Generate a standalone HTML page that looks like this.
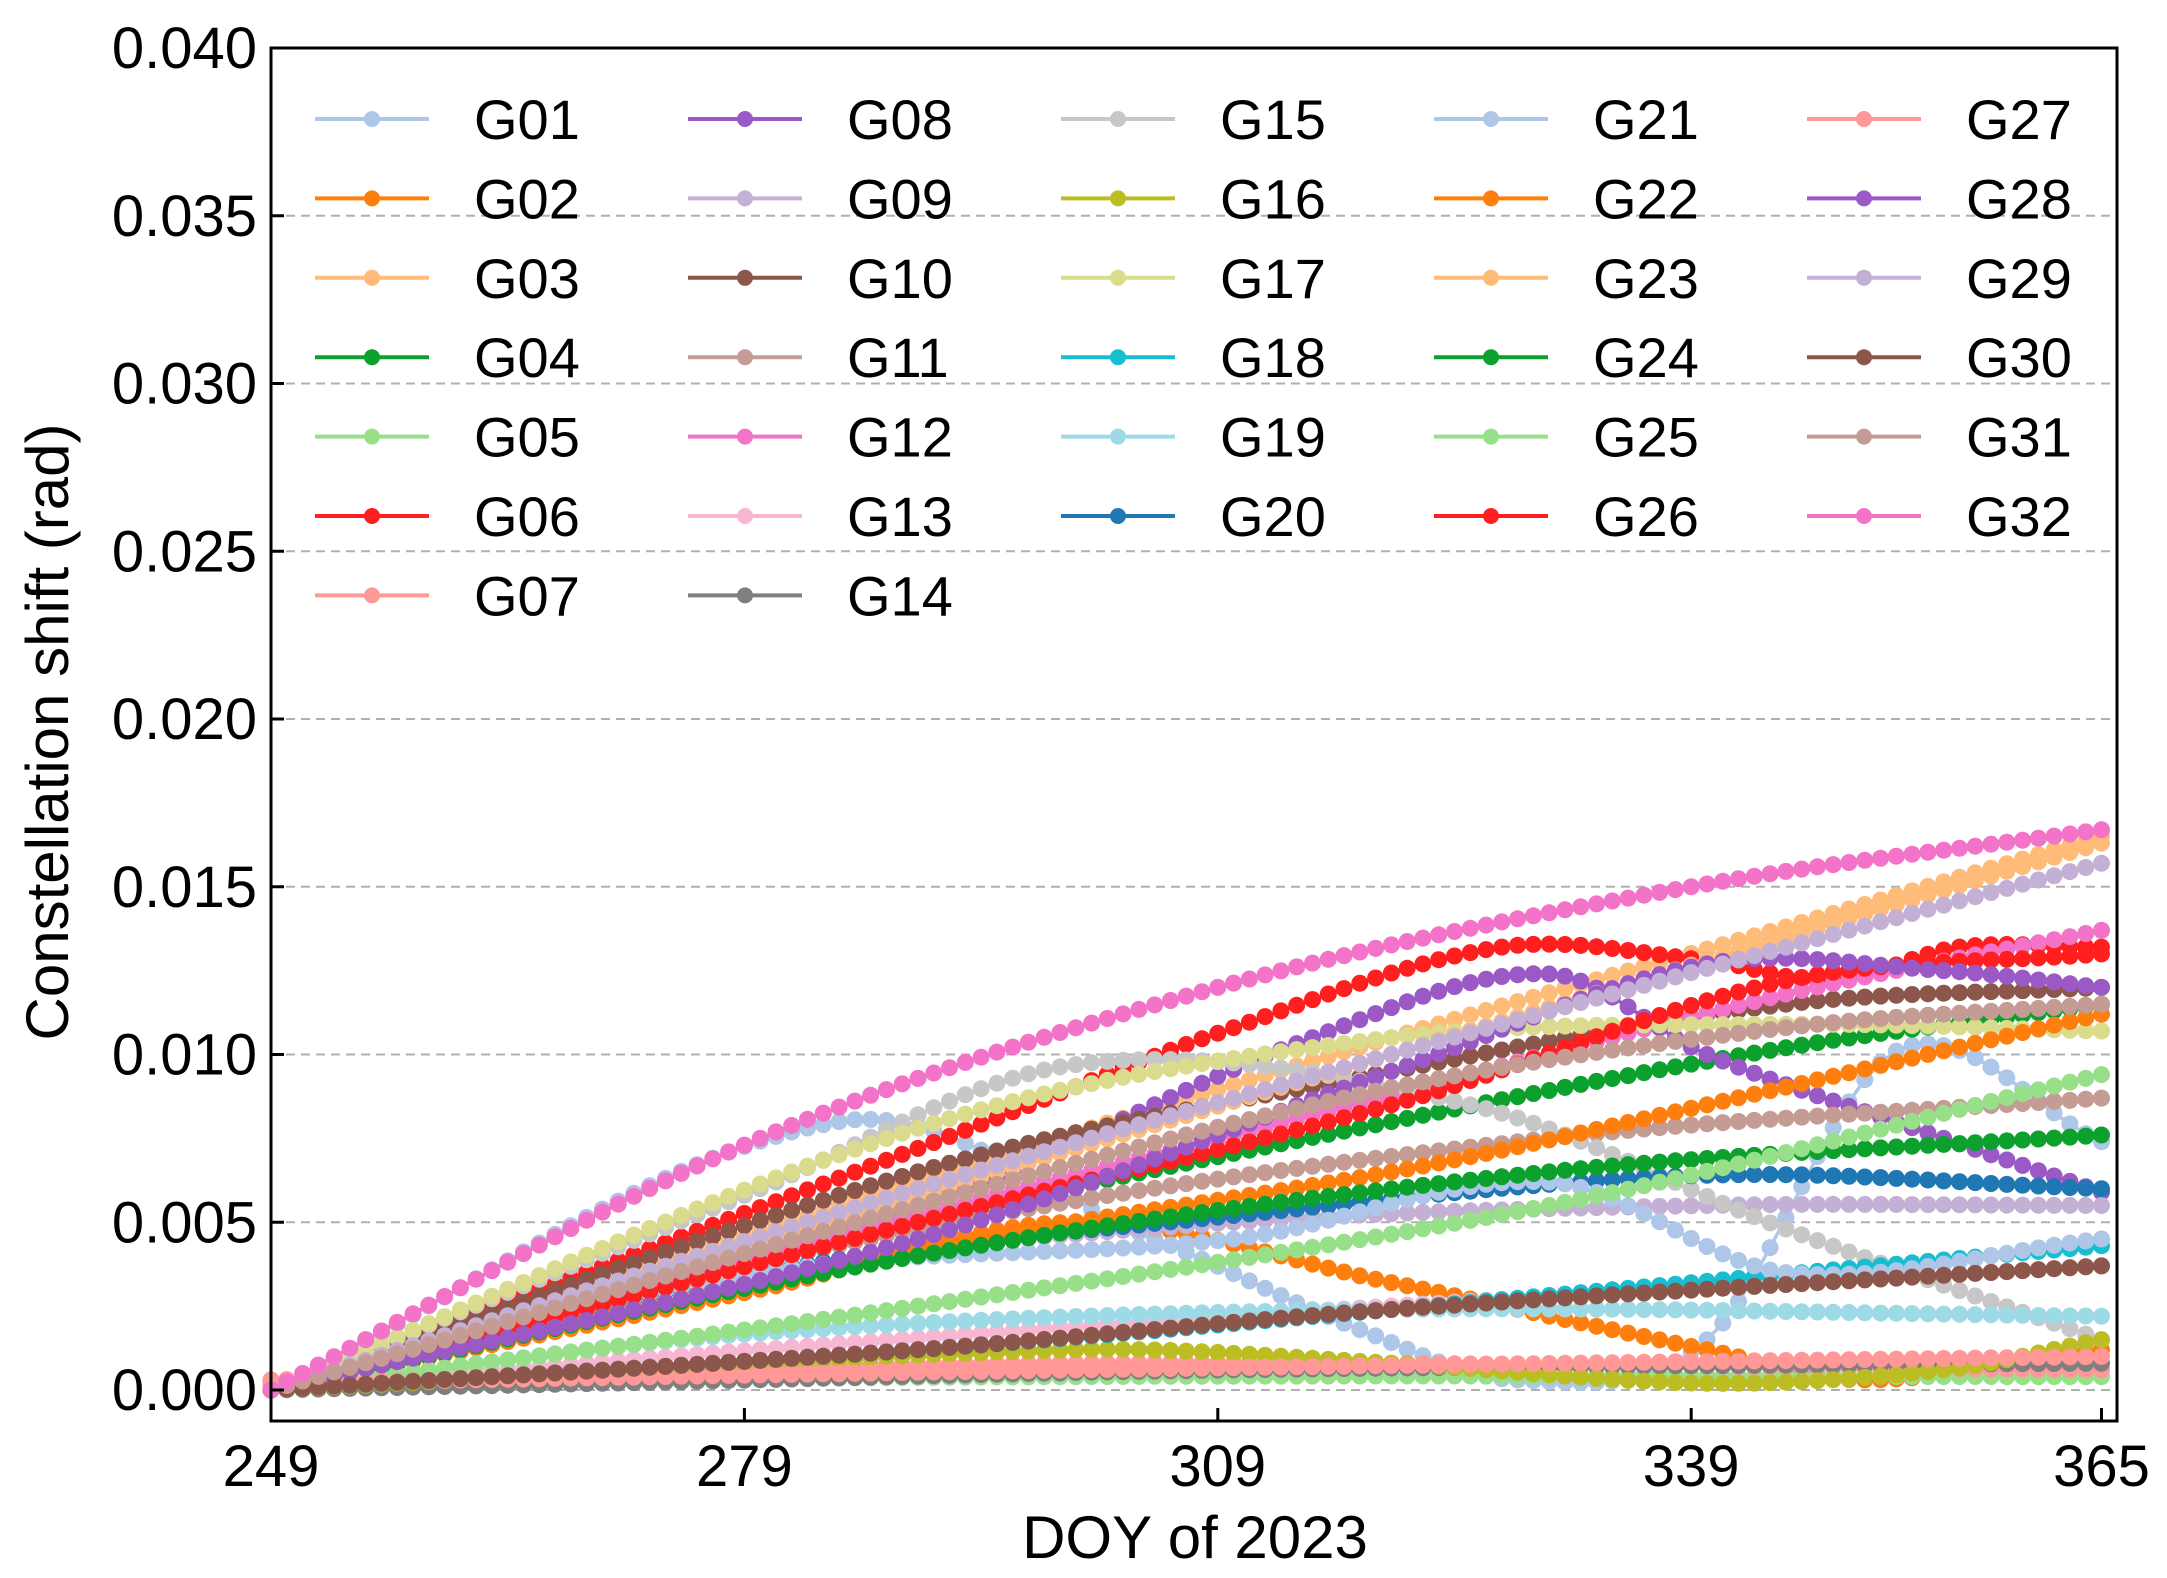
<!DOCTYPE html>
<html><head><meta charset="utf-8"><style>
html,body{margin:0;padding:0;background:#fff;}
svg{display:block;font-family:"Liberation Sans",Arial,sans-serif;}
</style></head><body>
<svg id="s" width="2167" height="1578" viewBox="0 0 2167 1578" xmlns="http://www.w3.org/2000/svg">
<g id="grid"></g>
<g id="data"></g>
<g id="axes"></g>
<g id="legend"></g>
<text x="1195" y="1558" font-size="60" text-anchor="middle">DOY of 2023</text>
<text transform="translate(68,732) rotate(-90)" font-size="60" text-anchor="middle">Constellation shift (rad)</text>
</svg>
<script>
const NS="http://www.w3.org/2000/svg";
const L=271,R=2117,T=48,B=1421;
const X=d=>L+(d-249)*15.78;
const Y=v=>1390-v*33550;
function el(p,tag,a,txt){const e=document.createElementNS(NS,tag);for(const k in a)e.setAttribute(k,a[k]);if(txt!==undefined)e.textContent=txt;p.appendChild(e);return e;}
const grid=document.getElementById('grid'),axes=document.getElementById('axes'),data=document.getElementById('data'),leg=document.getElementById('legend');
const yt=["0.000","0.005","0.010","0.015","0.020","0.025","0.030","0.035","0.040"];
yt.forEach((t,i)=>{const y=Y(i*0.005);
 if(i<8)el(grid,'line',{x1:L,x2:R,y1:y,y2:y,stroke:'#b0b0b0','stroke-width':2,'stroke-dasharray':'9,6'});
 el(axes,'line',{x1:L,x2:L+13,y1:y,y2:y,stroke:'#000','stroke-width':3});
 el(axes,'text',{x:257,y:y+20,'font-size':58,'text-anchor':'end'},t);});
[249,279,309,339,365].forEach(d=>{const x=X(d);
 el(axes,'line',{x1:x,x2:x,y1:B,y2:B-13,stroke:'#000','stroke-width':3});
 el(axes,'text',{x:x,y:1486,'font-size':58,'text-anchor':'middle'},d);});
el(axes,'rect',{x:L,y:T,width:R-L,height:B-T,fill:'none',stroke:'#000','stroke-width':3});
const C={1:'#aec7e8',2:'#ff7f0e',3:'#ffbb78',4:'#0ca02c',5:'#98df8a',6:'#ff1f1f',7:'#ff9896',8:'#9b59c6',9:'#c5b0d5',10:'#8c564b',11:'#c49c94',12:'#f273c8',13:'#f7b6d2',14:'#7f7f7f',15:'#c7c7c7',16:'#bcbd22',17:'#dbdb8d',18:'#17becf',19:'#9edae5',20:'#1f77b4'};
const col=n=>C[n<=20?n:n-20];
const S={
13:[[249,0],[280,.0012],[320,.0025],[365,.0037]],
14:[[249,0],[270,.0002],[310,.0006],[365,.0008]],
7:[[249,.0003],[300,.0008],[365,.0006]],
27:[[249,.0002],[300,.0006],[365,.001]],
5:[[249,.0002],[300,.0004],[365,.0004]],
16:[[249,0],[300,.0012],[320,.0008],[340,.0002],[355,.0006],[365,.0015]],
30:[[249,0],[290,.0012],[320,.0024],[365,.0037]],
18:[[249,0],[290,.0012],[320,.0024],[365,.0043]],
19:[[249,0],[280,.0017],[320,.0024],[365,.0022]],
2:[[249,0],[280,.003],[300,.005],[320,.0032],[340,.0012],[350,.0003],[365,.0012]],
25:[[249,0],[290,.0025],[330,.0055],[365,.0094]],
9:[[249,0],[280,.0035],[310,.005],[340,.0055],[365,.0055]],
20:[[249,0],[280,.0035],[310,.0052],[340,.0064],[365,.006]],
24:[[249,0],[290,.004],[330,.0065],[365,.0076]],
11:[[249,0],[290,.0048],[330,.0075],[365,.0087]],
21:[[249,0],[280,.0035],[310,.0045],[330,.0062],[345,.0035],[365,.0045]],
1:[[249,0],[285,.008],[305,.0045],[318,.0018],[328,.0003],[340,.0015],[352,.0101],[365,.0074]],
15:[[249,0],[279,.0058],[300,.0097],[325,.0085],[345,.0048],[365,.0015]],
22:[[249,0],[290,.0042],[320,.0065],[340,.0085],[365,.0112]],
4:[[249,0],[290,.005],[320,.008],[345,.0102],[365,.0115]],
31:[[249,0],[290,.0055],[320,.009],[345,.0108],[365,.0115]],
17:[[249,0],[290,.0078],[320,.0105],[345,.0109],[365,.0107]],
10:[[249,0],[290,.0065],[320,.0095],[345,.0115],[365,.012]],
28:[[249,0],[290,.0045],[320,.0095],[340,.0127],[355,.0125],[365,.012]],
8:[[249,0],[290,.0055],[315,.0105],[330,.0124],[340,.01],[355,.0075],[365,.0059]],
12:[[249,0],[290,.0052],[320,.0088],[345,.0118],[365,.0137]],
26:[[249,0],[290,.005],[320,.0085],[345,.0122],[365,.013]],
6:[[249,0],[290,.0072],[310,.0108],[327,.0132],[340,.0128],[348,.0122],[356,.0132],[365,.0132]],
29:[[249,0],[290,.006],[320,.01],[345,.0132],[365,.0157]],
3:[[249,0],[290,.0062],[320,.0105],[345,.0138],[365,.0165]],
23:[[249,0],[290,.0058],[320,.01],[345,.0135],[365,.0163]],
32:[[249,0],[279,.0073],[309,.012],[339,.015],[365,.0167]]
};
function interp(p,d){let i=0;while(i<p.length-2&&d>p[i+1][0])i++;
 const p0=p[Math.max(0,i-1)],p1=p[i],p2=p[i+1],p3=p[Math.min(p.length-1,i+2)];
 const t=(d-p1[0])/(p2[0]-p1[0]);
 const m1=(p2[1]-p0[1])/(p2[0]-p0[0]||1)*(p2[0]-p1[0]);
 const m2=(p3[1]-p1[1])/(p3[0]-p1[0]||1)*(p2[0]-p1[0]);
 const t2=t*t,t3=t2*t;
 return (2*t3-3*t2+1)*p1[1]+(t3-2*t2+t)*m1+(-2*t3+3*t2)*p2[1]+(t3-t2)*m2;}
Object.keys(S).forEach(k=>{const n=+k,c=col(n),p=S[k];let pts=[];
 for(let d=249;d<=365;d++){const v=Math.max(0,interp(p,d));pts.push([X(d),Y(v)]);}
 el(data,'polyline',{points:pts.map(q=>q[0].toFixed(1)+','+q[1].toFixed(1)).join(' '),fill:'none',stroke:c,'stroke-width':3.5});
 pts.forEach(q=>el(data,'circle',{cx:q[0].toFixed(1),cy:q[1].toFixed(1),r:8.5,fill:c}));});
for(let n=1;n<=32;n++){let cI,r;
 if(n<=7){cI=0;r=n-1}else if(n<=14){cI=1;r=n-8}else if(n<=20){cI=2;r=n-15}else if(n<=26){cI=3;r=n-21}else{cI=4;r=n-27}
 const x=315+cI*373,y=119+r*79.4,c=col(n);
 el(leg,'line',{x1:x,x2:x+114,y1:y,y2:y,stroke:c,'stroke-width':4});
 el(leg,'circle',{cx:x+57,cy:y,r:8,fill:c});
 el(leg,'text',{x:x+159,y:y+20,'font-size':56},'G'+String(n).padStart(2,'0'));}
</script>
</body></html>
